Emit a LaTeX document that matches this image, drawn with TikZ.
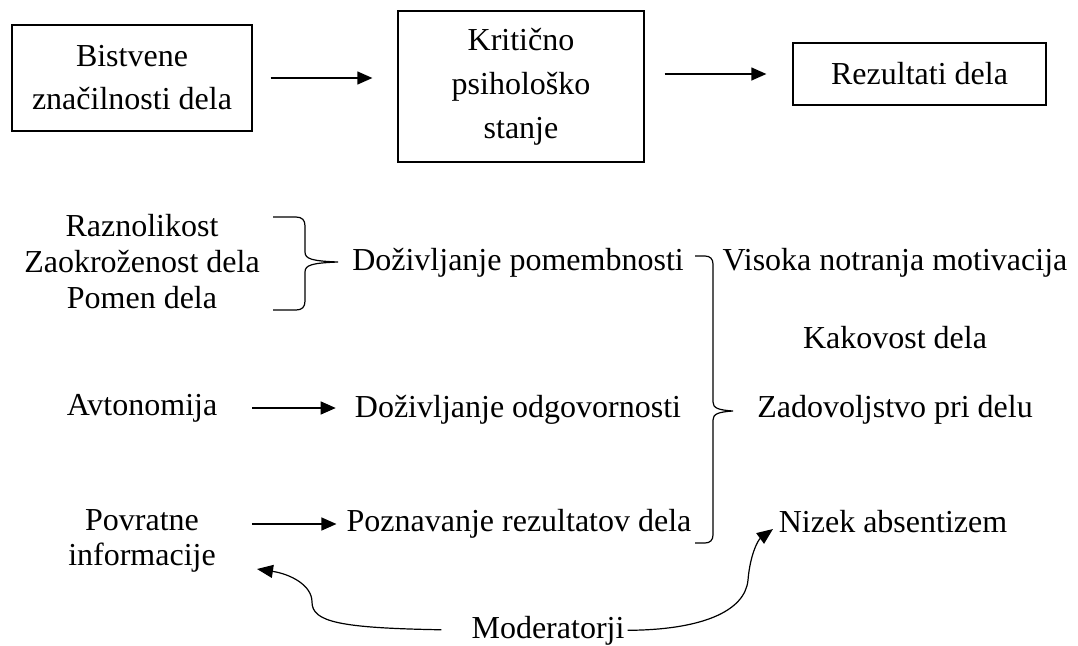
\documentclass[tikz,border=0pt]{standalone}
\usepackage{fontspec}
\setmainfont{Liberation Serif}
\usetikzlibrary{arrows.meta}
\begin{document}
\begin{tikzpicture}[x=1pt,y=-1pt,
  every node/.style={font=\fontsize{32}{36}\selectfont, inner sep=0pt, align=center},
  box/.style={draw, line width=1.3pt},
  arr/.style={-{Triangle[length=15pt,width=13pt]}, line width=1.3pt},
  curvearr/.style={-{Triangle[length=16pt,width=13pt]}, line width=1.2pt},
  bracel/.style={line width=1.2pt}]
\useasboundingbox (0,0) rectangle (1078,645);
% top row
\node[box, minimum width=240pt, minimum height=106pt, font=\fontsize{32}{43}\selectfont] (bist) at (132,78) {Bistvene\\značilnosti dela};
\node[box, minimum width=246pt, minimum height=151pt, font=\fontsize{32}{44}\selectfont] (krit) at (521,86.5) {Kritično\\psihološko\\stanje};
\node[box, minimum width=253pt, minimum height=62pt] (rez) at (919.5,74) {Rezultati dela};
\draw[arr, shorten <=18pt, shorten >=25pt] (bist.east) -- (bist.east -| krit.west);
\draw[arr, shorten <=20pt, shorten >=26pt] (rez.west -| krit.east) -- (rez.west);
% left column
\node (razn) at (142,262) {Raznolikost\\Zaokroženost dela\\Pomen dela};
\node (avt) at (142,408) {Avtonomija};
\node[font=\fontsize{32}{35}\selectfont] (pov) at (142,541) {Povratne\\informacije};
% middle column
\node (dp) at (518,263) {Doživljanje pomembnosti};
\node (dod) at (518,410) {Doživljanje odgovornosti};
\node (pr) at (519,524) {Poznavanje rezultatov dela};
% right column
\node (vis) at (895,263) {Visoka notranja motivacija};
\node (kak) at (895,338) {Kakovost dela};
\node (zad) at (895,410) {Zadovoljstvo pri delu};
\node (niz) at (893,522) {Nizek absentizem};
% bottom
\node[anchor=base] (mod) at (548,638) {Moderatorji};
% arrows
\draw[arr, shorten <=35pt, shorten >=19pt] (avt.east) -- (avt.east -| dod.west);
\draw[arr, shorten <=36pt, shorten >=10pt] (pov.east |- pr.west) -- (pr.west);
% braces
\draw[bracel] (273,217) -- (296,217) .. controls (302,217) and (305,220) .. (305,226)
  -- (305,252) .. controls (305,259) and (312,261) .. (338,262)
  .. controls (312,263) and (305,265) .. (305,272)
  -- (305,301) .. controls (305,307) and (302,310) .. (296,310) -- (273,310);
\draw[bracel] (695,256) -- (705,256) .. controls (710,256) and (713,259) .. (713,264)
  -- (713,402) .. controls (713,408) and (718,410) .. (733,411)
  .. controls (718,412) and (713,414) .. (713,420)
  -- (713,535) .. controls (713,540) and (710,543) .. (705,543) -- (695,543);
% moderator curves
\coordinate (lt) at (257,569);
\coordinate (rt) at (773,529);
\draw[curvearr, shorten <=30pt] (mod.west) .. controls (340,628) and (312,622) .. (312,602)
  .. controls (312,585) and (290,574) .. (lt);
\draw[curvearr, shorten <=3pt] (mod.east) .. controls (700,630) and (745,612) .. (748,580)
  .. controls (750,555) and (758,540) .. (rt);
\end{tikzpicture}
\end{document}
